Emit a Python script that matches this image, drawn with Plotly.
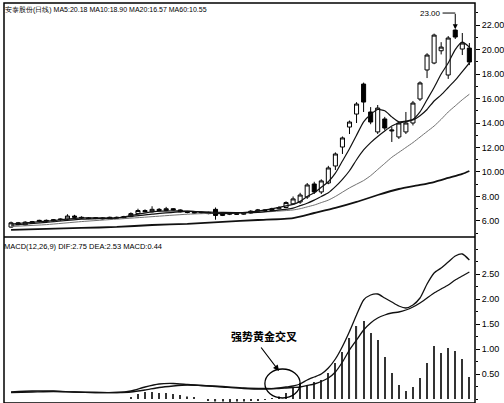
import plotly.graph_objects as go

# ---------------- data ----------------
idx = list(range(66))
opens = [5.50, 5.85, 5.68, 5.80, 5.95, 6.05, 6.00, 6.10, 6.15, 6.40,
         6.30, 6.25, 6.20, 6.25, 6.18, 6.30, 6.25, 6.35, 6.60, 6.85,
         6.75, 6.95, 6.85, 7.00, 6.90, 6.75, 6.70, 6.65, 6.70, 6.95,
         6.45, 6.55, 6.60, 6.55, 6.65, 6.80, 6.90, 6.85, 7.00, 7.10,
         7.40, 7.55, 7.96, 9.02, 8.37, 9.10, 10.49, 12.04, 13.67, 14.73,
         17.18, 14.90, 13.27, 14.33, 13.35, 12.86, 13.27, 14.00, 15.96, 18.33,
         18.90, 19.90, 17.92, 21.59, 20.04, 20.12]
highs = [5.95, 5.92, 5.98, 6.00, 6.10, 6.12, 6.15, 6.20, 6.55, 6.50,
         6.38, 6.32, 6.30, 6.30, 6.35, 6.36, 6.42, 6.70, 7.00, 6.95,
         7.20, 7.05, 7.15, 7.05, 6.95, 6.82, 6.78, 6.75, 6.75, 7.10,
         6.60, 6.65, 6.65, 6.72, 6.88, 6.98, 6.95, 7.08, 7.20, 7.60,
         8.00, 8.30, 9.10, 9.20, 9.40, 10.50, 11.60, 12.90, 14.20, 15.70,
         17.30, 15.30, 15.47, 14.50, 13.67, 14.10, 14.90, 15.80, 17.40, 19.70,
         21.30, 20.60, 21.10, 21.65, 21.35, 20.53]
lows = [5.45, 5.65, 5.62, 5.75, 5.88, 5.95, 5.95, 6.02, 6.10, 6.25,
        6.18, 6.15, 6.15, 6.12, 6.15, 6.20, 6.22, 6.30, 6.55, 6.70,
        6.70, 6.80, 6.80, 6.85, 6.70, 6.62, 6.60, 6.60, 6.55, 6.10,
        6.40, 6.48, 6.50, 6.50, 6.60, 6.75, 6.78, 6.80, 6.95, 7.05,
        7.35, 7.40, 7.80, 8.20, 8.20, 9.00, 10.16, 11.47, 13.10, 14.00,
        14.90, 13.90, 13.10, 13.40, 12.45, 12.70, 13.10, 13.80, 15.80, 17.67,
        18.80, 19.60, 17.60, 20.86, 19.55, 18.73]
closes = [5.85, 5.70, 5.90, 5.95, 6.05, 6.00, 6.10, 6.15, 6.40, 6.30,
          6.25, 6.20, 6.25, 6.18, 6.30, 6.25, 6.35, 6.60, 6.85, 6.75,
          6.95, 6.85, 7.00, 6.90, 6.75, 6.70, 6.65, 6.70, 6.60, 6.45,
          6.55, 6.60, 6.55, 6.65, 6.80, 6.90, 6.85, 7.00, 7.10, 7.50,
          7.80, 8.12, 8.94, 8.37, 9.27, 10.33, 11.47, 12.78, 14.08, 15.55,
          15.71, 14.08, 15.22, 13.59, 13.42, 14.00, 14.00, 15.63, 17.27, 19.55,
          21.18, 20.20, 20.94, 21.02, 20.53, 18.98]

ma_idx = [0, 5, 10, 15, 20, 25, 30, 35, 40, 41, 42, 43, 44, 45, 46, 47, 48, 49,
          50, 51, 52, 53, 54, 55, 56, 57, 58, 59, 60, 61, 62, 63, 64, 65]
ma5 = [5.75, 5.98, 6.25, 6.25, 6.75, 6.80, 6.60, 6.80, 7.35, 7.60, 8.00, 8.30,
       8.75, 9.20, 9.90, 10.90, 11.90, 13.00, 14.10, 14.70, 15.10, 15.00, 14.50,
       14.10, 14.15, 14.30, 14.90, 15.90, 16.90, 18.00, 18.90, 20.00, 20.60, 20.20]
ma10 = [5.65, 5.88, 6.15, 6.25, 6.55, 6.78, 6.70, 6.70, 7.05, 7.25, 7.45, 7.70,
        8.00, 8.30, 8.80, 9.40, 10.10, 11.00, 11.80, 12.40, 12.90, 13.35, 13.75,
        14.00, 14.10, 14.25, 14.60, 15.10, 15.80, 16.30, 16.90, 17.50, 18.20, 18.90]
ma20 = [5.55, 5.70, 5.95, 6.15, 6.35, 6.55, 6.65, 6.70, 6.90, 7.00, 7.15, 7.30,
        7.50, 7.70, 8.00, 8.35, 8.70, 9.00, 9.30, 9.70, 10.20, 10.70, 11.20,
        11.60, 12.00, 12.40, 12.85, 13.30, 13.75, 14.30, 14.90, 15.40, 15.90, 16.35]
ma60_idx = [0, 5, 10, 15, 20, 25, 30, 35, 40, 43, 46, 49, 52, 55, 58, 60, 62, 64, 65]
ma60 = [5.27, 5.35, 5.43, 5.51, 5.67, 5.76, 5.92, 6.08, 6.24, 6.65, 7.06, 7.55,
        8.12, 8.61, 8.94, 9.18, 9.51, 9.84, 10.08]

macd_idx = [0, 3, 6, 9, 12, 15, 17, 19, 21, 23, 25, 27, 30, 33, 36, 38, 39, 40,
            41, 42, 43, 44, 45, 46, 47, 48, 49, 50, 51, 52, 53, 54, 55, 56, 57,
            58, 59, 60, 61, 62, 63, 64, 65]
dif = [0.14, 0.16, 0.16, 0.14, 0.13, 0.13, 0.16, 0.24, 0.30, 0.31, 0.29, 0.27,
       0.24, 0.21, 0.20, 0.22, 0.24, 0.26, 0.30, 0.38, 0.44, 0.50, 0.62, 0.80,
       1.05, 1.35, 1.68, 1.98, 2.08, 2.10, 2.02, 1.94, 1.86, 1.82, 1.88, 2.02,
       2.30, 2.52, 2.62, 2.74, 2.86, 2.90, 2.78]
dea = [0.13, 0.14, 0.15, 0.14, 0.13, 0.13, 0.14, 0.18, 0.23, 0.26, 0.28, 0.27,
       0.25, 0.22, 0.21, 0.21, 0.22, 0.23, 0.24, 0.27, 0.30, 0.35, 0.42, 0.54,
       0.74, 0.98, 1.18, 1.38, 1.52, 1.62, 1.68, 1.72, 1.74, 1.78, 1.84, 1.92,
       2.02, 2.12, 2.20, 2.28, 2.38, 2.46, 2.54]
macd_bar = [0, 0, 0, 0, 0, 0, 0, 0, 0, 0,
            0, 0, 0, 0, 0, 0, 0, 0.04, 0.10, 0.14,
            0.14, 0.12, 0.12, 0.10, 0.08, 0.05, 0.03, 0.0, -0.04, -0.05,
            -0.05, -0.06, -0.05, -0.05, -0.04, -0.03, -0.02, 0.02, 0.05, 0.12,
            0.22, 0.32, 0.28, 0.34, 0.38, 0.52, 0.72, 0.94, 1.22, 1.46,
            1.56, 1.32, 1.18, 0.84, 0.52, 0.28, 0.16, 0.24, 0.42, 0.72,
            1.06, 0.92, 1.02, 0.96, 0.80, 0.44]

price_ticks = [6, 8, 10, 12, 14, 16, 18, 20, 22]
price_ticktext = ["6.00", "8.00", "10.00", "12.00", "14.00", "16.00", "18.00", "20.00", "22.00"]
macd_ticks = [0.5, 1.0, 1.5, 2.0, 2.5]
macd_ticktext = ["0.50", "1.00", "1.50", "2.00", "2.50"]

title_text = "安泰股份(日线) MA5:20.18 MA10:18.90 MA20:16.57 MA60:10.55"
macd_text = "MACD(12,26,9) DIF:2.75 DEA:2.53 MACD:0.44"
cross_label = "强势黄金交叉"
high_label = "23.00"

# ---------------- figure ----------------
FONT = "Liberation Sans, Arial, sans-serif"
fig = go.Figure()

fig.add_trace(go.Candlestick(
    x=idx, open=opens, high=highs, low=lows, close=closes,
    increasing=dict(line=dict(color="black", width=1), fillcolor="white"),
    decreasing=dict(line=dict(color="black", width=1), fillcolor="black"),
    whiskerwidth=0, xaxis="x", yaxis="y", showlegend=False))

for vals, xs, col, w in [(ma20, ma_idx, "#707070", 1.0), (ma10, ma_idx, "#111111", 1.2),
                         (ma5, ma_idx, "#111111", 1.2), (ma60, ma60_idx, "#111111", 1.8)]:
    fig.add_trace(go.Scatter(x=xs, y=vals, mode="lines",
                             line=dict(color=col, width=w, shape="spline", smoothing=0.6),
                             xaxis="x", yaxis="y", showlegend=False, hoverinfo="skip"))

fig.add_trace(go.Bar(x=idx, y=macd_bar, width=0.16, marker=dict(color="#333333", line=dict(width=0)),
                     xaxis="x2", yaxis="y2", showlegend=False))
fig.add_trace(go.Scatter(x=macd_idx, y=dif, mode="lines",
                         line=dict(color="#111111", width=1.3, shape="spline", smoothing=0.6),
                         xaxis="x2", yaxis="y2", showlegend=False))
fig.add_trace(go.Scatter(x=macd_idx, y=dea, mode="lines",
                         line=dict(color="#111111", width=1.3, shape="spline", smoothing=0.6),
                         xaxis="x2", yaxis="y2", showlegend=False))

xrange = [-1, 65.8]
axis_font = dict(family=FONT, size=9, color="black")
fig.update_layout(
    width=504, height=403,
    margin=dict(l=4, r=26, t=3, b=0),
    paper_bgcolor="white", plot_bgcolor="white",
    showlegend=False,
    boxgap=0.18,
    xaxis=dict(domain=[0, 1], range=xrange, showticklabels=False, showgrid=False,
               zeroline=False, ticks="", rangeslider=dict(visible=False), anchor="y"),
    xaxis2=dict(domain=[0, 1], range=xrange, showticklabels=False, showgrid=False,
                zeroline=False, ticks="", anchor="y2", matches="x"),
    yaxis=dict(domain=[0.415, 1], range=[4.69, 23.8], side="right", showgrid=False,
               zeroline=False, tickvals=price_ticks, ticktext=price_ticktext,
               ticks="outside", ticklen=4, tickcolor="black", tickfont=axis_font,
               minor=dict(ticks="outside", ticklen=2, tickcolor="black", dtick=1),
               anchor="x"),
    yaxis2=dict(domain=[0, 0.415], range=[-0.08, 3.24], side="right", showgrid=False,
                zeroline=False, tickvals=macd_ticks, ticktext=macd_ticktext,
                ticks="outside", ticklen=4, tickcolor="black", tickfont=axis_font,
                minor=dict(ticks="outside", ticklen=2, tickcolor="black", dtick=0.25),
                anchor="x2"),
    shapes=[
        dict(type="rect", xref="paper", yref="paper", x0=0, x1=1, y0=0, y1=1,
             line=dict(color="black", width=1.5)),
        dict(type="line", xref="paper", yref="paper", x0=0, x1=1, y0=0.415, y1=0.415,
             line=dict(color="black", width=1.5)),
        dict(type="circle", xref="x2", yref="y2", x0=36.0, x1=41.0, y0=0.02, y1=0.60,
             line=dict(color="black", width=1.3)),
        dict(type="line", xref="x", yref="y", x0=61.2, x1=63.0, y0=22.98, y1=22.98,
             line=dict(color="black", width=1)),
    ],
    annotations=[
        dict(xref="paper", yref="paper", x=0, y=1, xanchor="left", yanchor="top",
             text=title_text, showarrow=False, font=dict(family=FONT, size=7, color="black"),
             xshift=-1, yshift=-1),
        dict(xref="paper", yref="paper", x=0, y=0.415, xanchor="left", yanchor="top",
             text=macd_text, showarrow=False, font=dict(family=FONT, size=7.5, color="black"),
             xshift=-2, yshift=-3),
        dict(xref="x", yref="y", x=63, y=21.65, text="", showarrow=True, ax=0, ay=-17,
             arrowhead=2, arrowsize=1, arrowwidth=1, arrowcolor="black"),
        dict(xref="x", yref="y", x=61.2, y=22.98, xanchor="right", yanchor="middle",
             text=high_label, showarrow=False, font=dict(family=FONT, size=8, color="black")),
        dict(xref="x2", yref="y2", x=35.9, y=1.26, text="<b>" + cross_label + "</b>",
             showarrow=False, font=dict(family="Noto Sans CJK SC", size=11, color="black")),
        dict(xref="x2", yref="y2", x=38.0, y=0.56, text="", showarrow=True, ax=-19, ay=-25,
             arrowhead=2, arrowsize=1, arrowwidth=1.2, arrowcolor="black"),
    ],
)

fig.write_html("out.html", config={"displayModeBar": False},
               post_script="document.body.style.margin='0';document.body.style.overflow='hidden';")
